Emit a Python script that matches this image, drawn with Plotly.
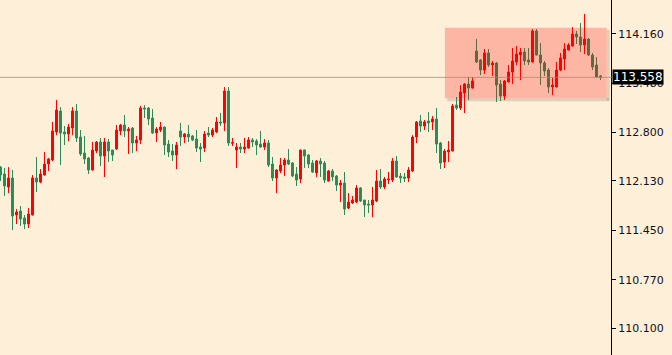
import plotly.graph_objects as go

# ---- data (prices) ----
open_ = [112.322,112.226,112.047,112.171,111.661,111.716,111.620,111.537,111.661,112.171,
         112.116,112.212,112.364,112.419,112.805,113.094,112.805,112.777,112.860,113.094,
         112.736,112.515,112.446,112.281,112.543,112.667,112.474,112.667,112.557,112.570,
         112.819,112.901,112.819,112.860,112.653,112.695,113.136,113.136,112.998,112.791,
         112.832,112.874,112.639,112.543,112.488,112.819,112.736,112.777,112.750,112.708,
         112.598,112.584,112.791,112.763,112.805,112.943,112.929,113.370,112.649,112.557,
         112.598,112.570,112.584,112.695,112.681,112.639,112.598,112.653,112.364,112.171,
         112.267,112.350,112.419,112.378,112.226,112.157,112.557,112.488,112.378,112.240,
         112.405,112.378,112.129,112.267,112.198,112.074,112.102,111.757,111.826,111.840,
         112.033,111.868,111.813,111.799,111.854,112.129,112.047,112.143,112.143,112.405,
         112.198,112.185,112.171,112.267,112.736,112.956,112.887,112.956,112.943,112.984,
         112.653,112.391,112.529,112.543,113.177,113.136,113.342,113.466,113.411,113.921,
         113.797,113.659,113.894,113.728,113.756,113.466,113.301,113.494,113.632,113.770,
         113.866,113.907,113.797,113.770,114.197,113.866,113.756,113.659,113.425,113.425,
         113.659,113.811,113.935,113.990,114.155,114.114,114.004,114.086,113.866,113.728,
         113.577]
high = [112.336,112.309,112.322,112.281,111.744,111.785,111.661,111.757,112.212,112.460,
        112.295,112.529,112.446,112.943,113.246,113.149,112.887,112.915,113.149,113.191,
        112.832,112.750,112.460,112.667,112.681,112.722,112.722,112.708,112.557,112.901,
        112.915,113.039,112.874,112.874,112.750,113.163,113.177,113.149,113.122,112.874,
        112.943,112.880,112.695,112.639,112.667,112.929,112.791,112.901,112.763,112.832,
        112.653,112.819,112.874,112.860,113.011,113.067,113.425,113.425,112.722,112.653,
        112.653,112.722,112.736,112.722,112.708,112.819,112.708,112.695,112.460,112.295,
        112.446,112.446,112.570,112.391,112.322,112.563,112.563,112.502,112.419,112.419,
        112.446,112.405,112.281,112.295,112.212,112.143,112.253,111.964,111.923,112.074,
        112.047,111.868,111.868,112.047,112.281,112.295,112.185,112.253,112.446,112.474,
        112.240,112.240,112.322,112.763,112.956,113.039,112.970,113.080,113.025,113.136,
        112.667,112.570,112.681,113.191,113.287,113.453,113.480,113.563,113.563,114.086,
        113.811,113.949,113.949,113.783,113.770,113.521,113.521,113.728,113.962,113.990,
        113.962,113.962,113.962,114.224,114.224,114.031,113.783,113.687,113.549,113.770,
        113.894,114.031,114.031,114.252,114.197,114.307,114.431,114.100,113.894,113.838,
        113.590]
low = [112.129,111.923,111.964,111.454,111.537,111.509,111.468,111.482,111.655,111.978,
       112.102,112.205,112.267,112.405,112.763,112.350,112.626,112.681,112.763,112.667,
       112.474,112.364,112.226,112.275,112.515,112.336,112.185,112.391,112.405,112.565,
       112.763,112.736,112.502,112.515,112.543,112.639,112.998,112.901,112.777,112.667,
       112.805,112.488,112.460,112.405,112.295,112.612,112.653,112.667,112.681,112.529,
       112.391,112.529,112.736,112.736,112.791,112.887,112.819,112.612,112.612,112.309,
       112.515,112.515,112.578,112.598,112.488,112.584,112.557,112.322,112.129,111.964,
       112.240,112.198,112.350,112.185,112.061,112.102,112.309,112.309,112.240,112.185,
       112.185,112.102,112.122,112.129,111.992,111.840,111.661,111.744,111.813,111.826,
       111.840,111.633,111.688,111.633,111.840,112.019,112.019,112.088,112.116,112.171,
       112.102,112.116,112.116,112.253,112.653,112.805,112.832,112.805,112.832,112.515,
       112.295,112.309,112.391,112.540,113.108,113.108,113.067,113.246,113.405,113.756,
       113.590,113.604,113.701,113.577,113.218,113.232,113.246,113.490,113.466,113.728,
       113.521,113.728,113.728,113.765,113.860,113.453,113.577,113.342,113.315,113.420,
       113.645,113.659,113.930,113.985,114.018,113.907,113.880,113.852,113.659,113.549,
       113.521]
close = [112.212,112.061,112.171,111.647,111.702,111.606,111.537,111.675,112.171,112.116,
         112.226,112.364,112.433,112.819,113.108,112.791,112.777,112.874,113.094,112.722,
         112.502,112.433,112.281,112.557,112.667,112.474,112.667,112.543,112.488,112.832,
         112.901,112.819,112.846,112.653,112.695,113.136,113.122,112.984,112.791,112.846,
         112.874,112.626,112.529,112.488,112.626,112.736,112.777,112.736,112.695,112.584,
         112.570,112.777,112.763,112.832,112.943,112.929,113.370,112.653,112.660,112.598,
         112.570,112.598,112.695,112.667,112.626,112.598,112.653,112.350,112.171,112.281,
         112.350,112.419,112.364,112.198,112.143,112.557,112.474,112.364,112.253,112.405,
         112.364,112.143,112.267,112.185,112.074,112.102,111.744,111.840,111.868,112.033,
         111.854,111.799,111.799,111.868,112.129,112.047,112.157,112.157,112.405,112.185,
         112.171,112.168,112.281,112.736,112.943,112.887,112.943,112.929,112.984,112.639,
         112.378,112.543,112.557,113.163,113.136,113.356,113.466,113.411,113.508,113.770,
         113.659,113.894,113.728,113.756,113.453,113.301,113.508,113.632,113.783,113.880,
         113.907,113.783,113.770,114.197,113.866,113.756,113.645,113.425,113.453,113.659,
         113.825,113.949,114.004,114.155,114.114,114.004,114.086,113.866,113.701,113.563,
         113.558]
candle_index = list(range(len(close)))

tick_values = [110.100, 110.770, 111.450, 112.130, 112.800, 113.480, 114.160]
tick_labels = ["110.100", "110.770", "111.450", "112.130", "112.800", "113.480", "114.160"]

current_price = 113.558
zone_start, zone_end = 111.1, 151.55      # candle positions spanned by the zone
zone_low, zone_high = 113.27, 114.243      # price band of the zone

y_range = [109.732, 114.624]
x_range = [-0.125, 152.625]

BG = "#FEEFD8"
UP = "#FF0000"
DOWN = "#2E8B57"

fig = go.Figure()
fig.add_trace(go.Candlestick(
    x=candle_index, open=open_, high=high, low=low, close=close,
    increasing=dict(line=dict(color=UP, width=1), fillcolor=UP),
    decreasing=dict(line=dict(color=DOWN, width=1), fillcolor=DOWN),
    whiskerwidth=0, hoverinfo="skip", showlegend=False,
))

# zone shadow (bottom + right strips)
fig.add_shape(type="rect", xref="x", yref="y", x0=zone_start + 0.6, x1=zone_end + 0.6,
              ysizemode="pixel", yanchor=zone_low, y0=0, y1=-3,
              fillcolor="rgba(120,90,70,0.22)", line_width=0, layer="above")
fig.add_shape(type="rect", xref="x", yref="y", xsizemode="pixel", xanchor=zone_end,
              x0=0, x1=3, y0=zone_low - 0.03, y1=zone_high - 0.03,
              fillcolor="rgba(120,90,70,0.22)", line_width=0, layer="above")
# zone
fig.add_shape(type="rect", xref="x", yref="y", x0=zone_start, x1=zone_end,
              y0=zone_low, y1=zone_high, fillcolor="rgba(255,0,0,0.24)",
              line_width=0, layer="above")
# current price line
fig.add_shape(type="line", xref="paper", yref="y", x0=0, x1=1.01,
              y0=current_price, y1=current_price,
              line=dict(color="rgba(150,140,130,0.75)", width=1), layer="above")

fig.add_annotation(x=1, xref="paper", y=current_price, yref="y", xanchor="left",
                   yanchor="middle", text=f"{current_price:.3f}", showarrow=False,
                   bgcolor="black", font=dict(color="white", size=12, family="DejaVu Sans"),
                   borderpad=0, xshift=1)

fig.update_layout(
    width=672, height=355,
    margin=dict(l=0, r=61, t=0, b=0),
    paper_bgcolor=BG, plot_bgcolor=BG,
    showlegend=False,
    xaxis=dict(range=x_range, visible=False, rangeslider=dict(visible=False),
               showgrid=False, zeroline=False),
    yaxis=dict(range=y_range, side="right", tickvals=tick_values, ticktext=tick_labels,
               showline=True, linecolor="black", linewidth=1,
               ticks="outside", ticklen=4, tickcolor="black",
               showgrid=False, zeroline=False,
               tickfont=dict(family="DejaVu Sans", size=11, color="#101020")),
)

fig.write_html("out.html")
